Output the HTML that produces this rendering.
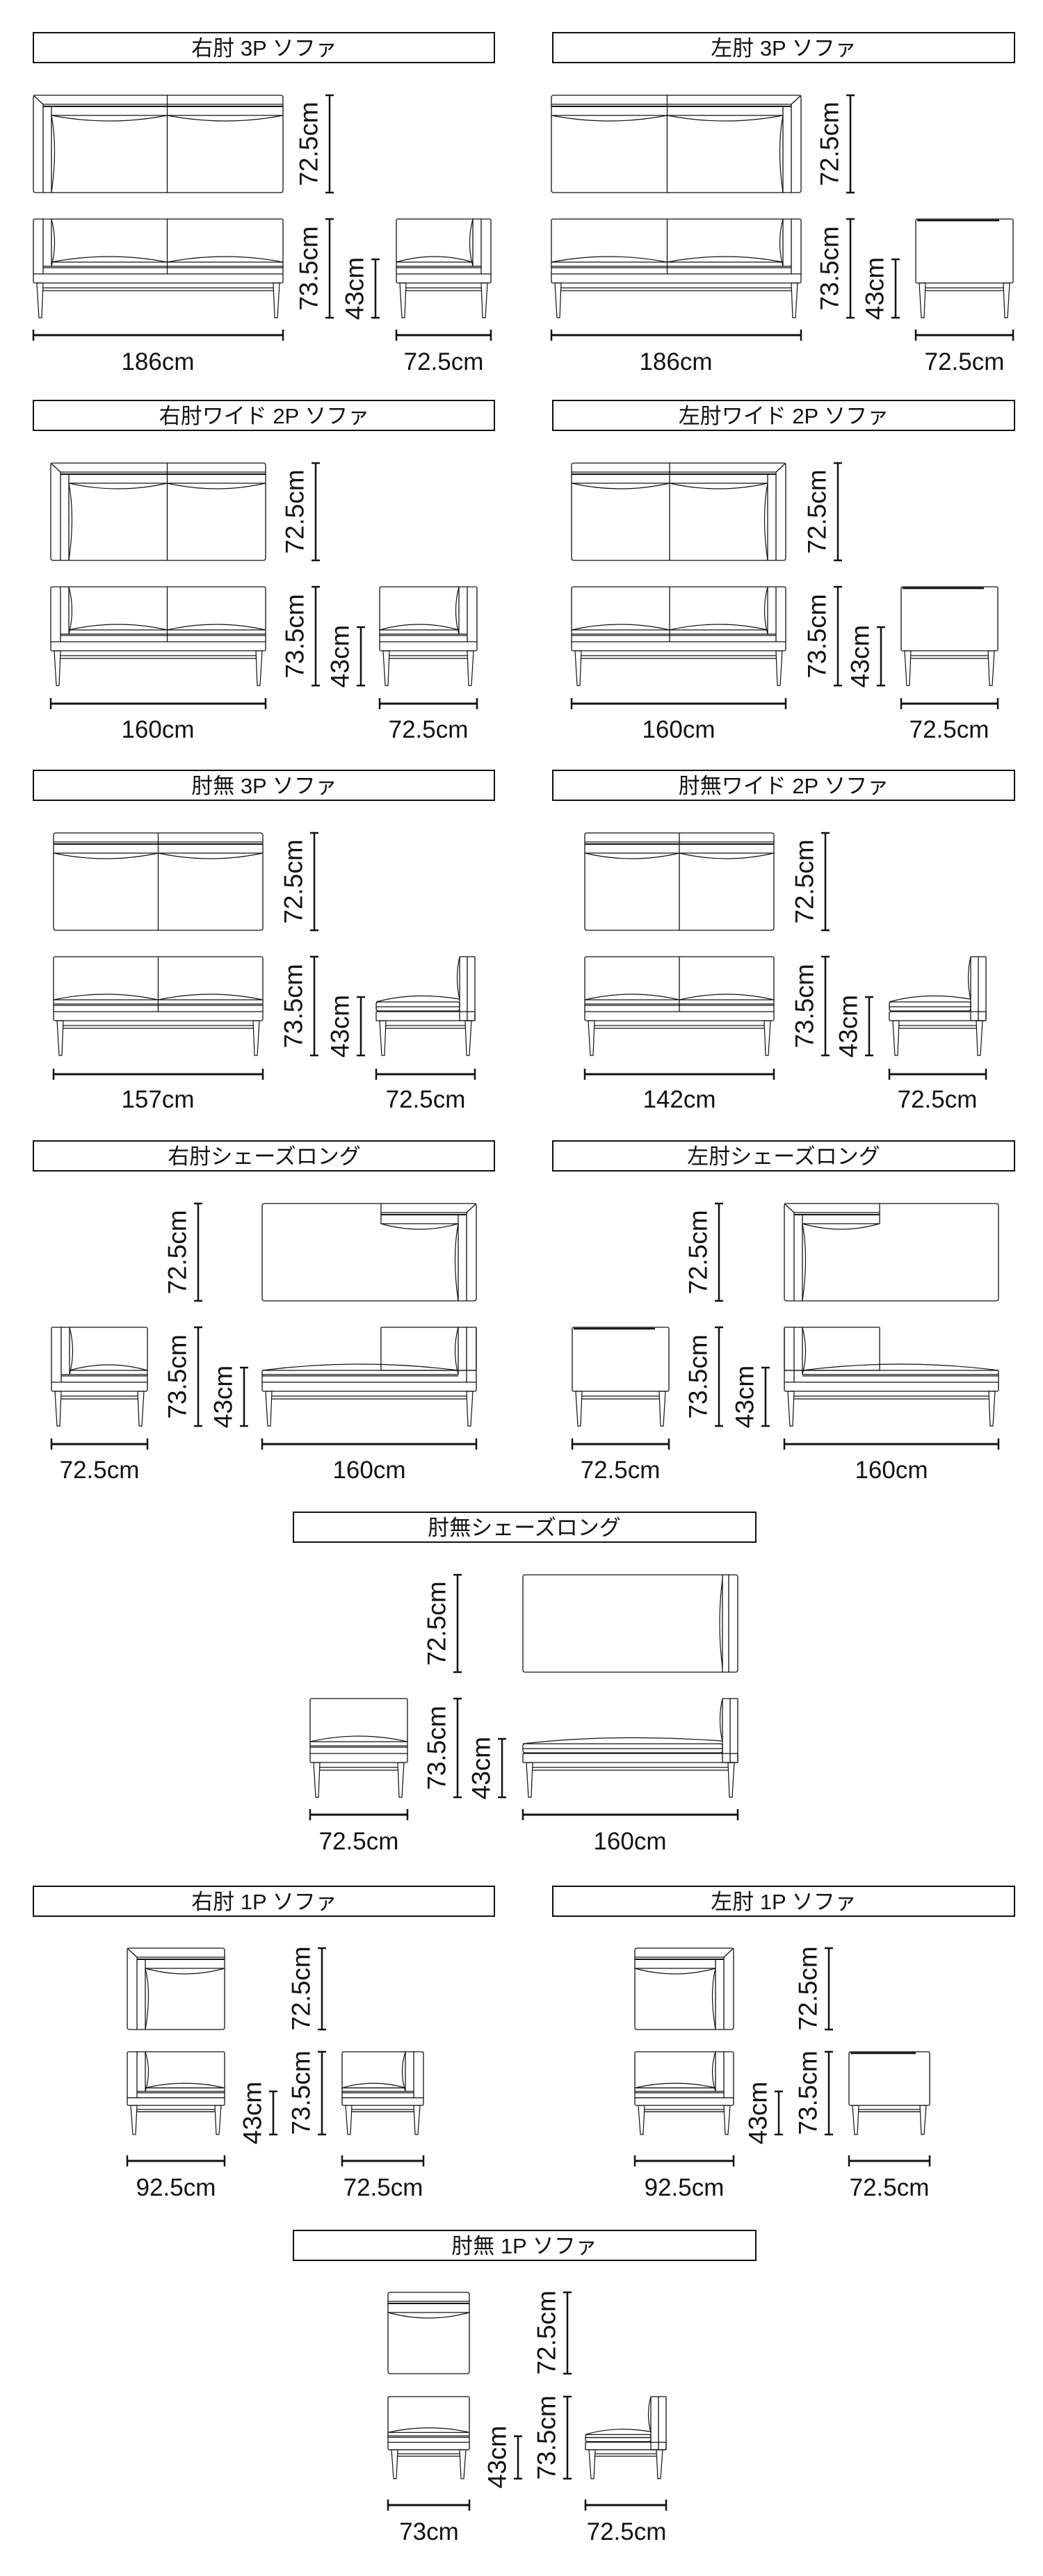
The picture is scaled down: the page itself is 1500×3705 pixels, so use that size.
<!DOCTYPE html>
<html><head><meta charset="utf-8">
<style>
html,body{margin:0;padding:0;background:#fff;}
svg{display:block;}
.t{font-family:"Liberation Sans","Noto Sans CJK JP",sans-serif;font-size:31px;fill:#111;text-anchor:middle;}
.h{font-family:"Liberation Sans",sans-serif;font-size:35px;fill:#111;text-anchor:middle;}
.v{font-family:"Liberation Sans",sans-serif;font-size:37px;fill:#111;text-anchor:middle;dominant-baseline:central;}
</style></head>
<body>
<svg id="s" width="1500" height="3705" viewBox="0 0 1500 3705" xmlns="http://www.w3.org/2000/svg">
<rect x="0" y="0" width="1500" height="3705" fill="#fff"/>
<g fill="none" stroke="#111" stroke-width="2">
<rect x="48" y="47" width="663" height="43"/><rect x="795" y="47" width="664" height="43"/>
<rect x="48" y="576" width="663" height="43"/><rect x="795" y="576" width="664" height="43"/>
<rect x="48" y="1108" width="663" height="43"/><rect x="795" y="1108" width="664" height="43"/>
<rect x="48" y="1641" width="663" height="43"/><rect x="795" y="1641" width="664" height="43"/>
<rect x="422" y="2175" width="665" height="43"/>
<rect x="48" y="2713" width="663" height="43"/><rect x="795" y="2713" width="664" height="43"/>
<rect x="422" y="3208" width="665" height="43"/>
</g>
<g>
<text class="t" x="380" y="80">右肘 3P ソファ</text>
<text class="t" x="1127" y="80">左肘 3P ソファ</text>
<text class="t" x="380" y="609">右肘ワイド 2P ソファ</text>
<text class="t" x="1127" y="609">左肘ワイド 2P ソファ</text>
<text class="t" x="380" y="1141">肘無 3P ソファ</text>
<text class="t" x="1127" y="1141">肘無ワイド 2P ソファ</text>
<text class="t" x="380" y="1674">右肘シェーズロング</text>
<text class="t" x="1127" y="1674">左肘シェーズロング</text>
<text class="t" x="754" y="2208">肘無シェーズロング</text>
<text class="t" x="380" y="2746">右肘 1P ソファ</text>
<text class="t" x="1127" y="2746">左肘 1P ソファ</text>
<text class="t" x="754" y="3241">肘無 1P ソファ</text>

<text class="h" x="227" y="532">186cm</text><text class="h" x="638" y="532">72.5cm</text>
<text class="h" x="972" y="532">186cm</text><text class="h" x="1387" y="532">72.5cm</text>
<text class="h" x="227" y="1061">160cm</text><text class="h" x="616" y="1061">72.5cm</text>
<text class="h" x="976" y="1061">160cm</text><text class="h" x="1365" y="1061">72.5cm</text>
<text class="h" x="227" y="1593">157cm</text><text class="h" x="612" y="1593">72.5cm</text>
<text class="h" x="977" y="1593">142cm</text><text class="h" x="1348" y="1593">72.5cm</text>
<text class="h" x="143" y="2126">72.5cm</text><text class="h" x="531" y="2126">160cm</text>
<text class="h" x="892" y="2126">72.5cm</text><text class="h" x="1282" y="2126">160cm</text>
<text class="h" x="516" y="2660">72.5cm</text><text class="h" x="906" y="2660">160cm</text>
<text class="h" x="253" y="3158">92.5cm</text><text class="h" x="551" y="3158">72.5cm</text>
<text class="h" x="984" y="3158">92.5cm</text><text class="h" x="1279" y="3158">72.5cm</text>
<text class="h" x="617" y="3653">73cm</text><text class="h" x="901" y="3653">72.5cm</text>

<text class="v" transform="translate(444,207) rotate(-90)">72.5cm</text>
<text class="v" transform="translate(444,386) rotate(-90)">73.5cm</text>
<text class="v" transform="translate(510,415) rotate(-90)">43cm</text>
<text class="v" transform="translate(1193,207) rotate(-90)">72.5cm</text>
<text class="v" transform="translate(1193,386) rotate(-90)">73.5cm</text>
<text class="v" transform="translate(1258,415) rotate(-90)">43cm</text>

<text class="v" transform="translate(424,736) rotate(-90)">72.5cm</text>
<text class="v" transform="translate(424,915) rotate(-90)">73.5cm</text>
<text class="v" transform="translate(489,944) rotate(-90)">43cm</text>
<text class="v" transform="translate(1175,736) rotate(-90)">72.5cm</text>
<text class="v" transform="translate(1175,915) rotate(-90)">73.5cm</text>
<text class="v" transform="translate(1237,944) rotate(-90)">43cm</text>

<text class="v" transform="translate(422,1268) rotate(-90)">72.5cm</text>
<text class="v" transform="translate(422,1447) rotate(-90)">73.5cm</text>
<text class="v" transform="translate(489,1476) rotate(-90)">43cm</text>
<text class="v" transform="translate(1157,1268) rotate(-90)">72.5cm</text>
<text class="v" transform="translate(1157,1447) rotate(-90)">73.5cm</text>
<text class="v" transform="translate(1220,1476) rotate(-90)">43cm</text>

<text class="v" transform="translate(255,1801) rotate(-90)">72.5cm</text>
<text class="v" transform="translate(255,1980) rotate(-90)">73.5cm</text>
<text class="v" transform="translate(321,2009) rotate(-90)">43cm</text>
<text class="v" transform="translate(1004,1801) rotate(-90)">72.5cm</text>
<text class="v" transform="translate(1004,1980) rotate(-90)">73.5cm</text>
<text class="v" transform="translate(1071,2009) rotate(-90)">43cm</text>

<text class="v" transform="translate(628,2335) rotate(-90)">72.5cm</text>
<text class="v" transform="translate(628,2514) rotate(-90)">73.5cm</text>
<text class="v" transform="translate(692,2543) rotate(-90)">43cm</text>

<text class="v" transform="translate(433,2860) rotate(-90)">72.5cm</text>
<text class="v" transform="translate(433,3010) rotate(-90)">73.5cm</text>
<text class="v" transform="translate(363,3039) rotate(-90)">43cm</text>
<text class="v" transform="translate(1162,2860) rotate(-90)">72.5cm</text>
<text class="v" transform="translate(1162,3010) rotate(-90)">73.5cm</text>
<text class="v" transform="translate(1090,3039) rotate(-90)">43cm</text>

<text class="v" transform="translate(786,3355) rotate(-90)">72.5cm</text>
<text class="v" transform="translate(786,3506) rotate(-90)">73.5cm</text>
<text class="v" transform="translate(715,3534) rotate(-90)">43cm</text>
</g>
<g id="d" fill="none" stroke="#111" stroke-width="1.3"></g>
</svg>
<script>
(function(){
var NS='http://www.w3.org/2000/svg';var cur=document.getElementById('d');
function E(t,a){var e=document.createElementNS(NS,t);for(var k in a)e.setAttribute(k,a[k]);cur.appendChild(e);return e;}
function L(x1,y1,x2,y2,w){E('line',{x1:x1,y1:y1,x2:x2,y2:y2,'stroke-width':w||1.3});}
function R(x,y,w,h,r){E('rect',{x:x,y:y,width:w,height:h,rx:r||0,'stroke-width':1.3});}
function P(d){E('path',{d:d,'stroke-width':1.2});}
function mirror(x,w,fn){var g=E('g',{transform:'translate('+(2*x+w)+',0) scale(-1,1)'});var o=cur;cur=g;fn();cur=o;}
function vdim(x,y1,y2){L(x,y1,x,y2,2.5);L(x-6,y1,x+6,y1,2.5);L(x-6,y2,x+6,y2,2.5);}
function hdim(x1,x2,y){L(x1,y,x2,y,3);L(x1,y-8,x1,y+8,2.5);L(x2,y-8,x2,y+8,2.5);}
function legs(x,w,yB2,yS1,yS2,yE){
 P('M'+(x+5)+','+yB2+' L'+(x+14)+','+yB2+' L'+(x+12)+','+yE+' L'+(x+8)+','+yE+' Z');
 P('M'+(x+w-5)+','+yB2+' L'+(x+w-14)+','+yB2+' L'+(x+w-12)+','+yE+' L'+(x+w-8)+','+yE+' Z');
 L(x+14,yS1,x+w-14,yS1);L(x+14,yS2,x+w-14,yS2);
}
function top(x,y,w,h,aL,aR,n){
 var a=14,bb=13;R(x,y,w,h,3);
 var il=aL?x+a:x, ir=aR?x+w-a:x+w;
 if(aL){L(x+a,y+bb,x+a,y+h);L(x,y,x+a,y+bb);}
 if(aR){L(x+w-a,y+bb,x+w-a,y+h);L(x+w,y,x+w-a,y+bb);}
 L(il,y+bb,ir,y+bb);L(il,y+bb+3,ir,y+bb+3,2);
 var cl=aL?il+12:il, cr=aR?ir-12:ir;
 if(aL){L(cl,y+bb+3,cl,y+h);P('M'+cl+','+(y+bb+16)+' Q'+(cl+9)+','+(y+h*0.55)+' '+cl+','+(y+h));}
 if(aR){L(cr,y+bb+3,cr,y+h);P('M'+cr+','+(y+bb+16)+' Q'+(cr-9)+','+(y+h*0.55)+' '+cr+','+(y+h));}
 L(cl,y+bb+16,cr,y+bb+16);
 for(var i=0;i<n;i++){var c0=cl+(cr-cl)*i/n,c1=cl+(cr-cl)*(i+1)/n;P('M'+c0+','+(y+bb+16)+' Q'+((c0+c1)/2)+','+(y+bb+32)+' '+c1+','+(y+bb+16));}
 for(i=1;i<n;i++){var xd=cl+(cr-cl)*i/n;L(xd,y,xd,y+h);}
}
function front(x,y,w,h,aL,aR,n){
 var r=h/142,yP=y+54*r,yC=y+62*r,yL=y+68*r,yB=y+79*r,yB2=y+92*r,yS1=y+99*r,yS2=y+103*r,yE=y+h;
 R(x,y,w,yB2-y,2);
 var a=14,il=aL?x+a:x,ir=aR?x+w-a:x+w;
 if(aL)L(x+a,y,x+a,yB);
 if(aR)L(x+w-a,y,x+w-a,yB);
 var cl=aL?il+12:il,cr=aR?ir-12:ir;
 if(aL){L(cl,y,cl,yL);P('M'+cl+','+y+' Q'+(cl+9)+','+((y+yL)/2)+' '+cl+','+yL);}
 if(aR){L(cr,y,cr,yL);P('M'+cr+','+y+' Q'+(cr-9)+','+((y+yL)/2)+' '+cr+','+yL);}
 for(var i=0;i<n;i++){var c0=cl+(cr-cl)*i/n,c1=cl+(cr-cl)*(i+1)/n;P('M'+c0+','+yC+' Q'+((c0+c1)/2)+','+(yP-8*r)+' '+c1+','+yC);}
 L(cl,yC,cr,yC);L(il,yL,ir,yL);L(il,yL+2,ir,yL+2);L(x,yB,x+w,yB);
 for(i=1;i<n;i++){var xd=cl+(cr-cl)*i/n;L(xd,y,xd,yB);}
 legs(x,w,yB2,yS1,yS2,yE);
}
function box(x,y,w,h){
 var r=h/142,yB2=y+92*r;R(x,y,w,yB2-y,2);L(x+2,y+2,x+w-20,y+2,2.5);
 legs(x,w,yB2,y+99*r,y+103*r,y+h);
}
function profile(x,y,w,h){
 var r=h/142,yP=y+54*r,yC=y+62*r,yL=y+78*r,yB=y+79*r,yB2=y+92*r,bw=22;
 R(x+w-bw,y,bw,yB2-y,1);L(x+w-bw/2,y,x+w-bw/2,yB2);
 P('M'+(x+w-bw)+','+y+' Q'+(x+w-bw-7)+','+(y+30*r)+' '+(x+w-bw)+','+yC);
 P('M'+x+','+(yC+3)+' Q'+(x+(w-bw)*0.45)+','+(yP-4*r)+' '+(x+w-bw)+','+(yC-1));
 R(x,yC+3,w-bw,yL-yC-3,3);L(x,yL-6,x+w-bw,yL-6);
 R(x,yB,w,yB2-yB,1);
 legs(x,w,yB2,y+99*r,y+103*r,y+h);
}
function chaiseTop(x,y,w,h){
 var a=14,bb=13,x0=x+w*0.555,cr=x+w-a-12;R(x,y,w,h,3);
 L(x0,y,x0,y+bb+16);L(x0,y+bb,x+w-a,y+bb);L(x0,y+bb+3,x+w-a,y+bb+3,2);
 L(x+w-a,y+bb,x+w-a,y+h);L(x+w,y,x+w-a,y+bb);
 L(cr,y+bb+3,cr,y+h);P('M'+cr+','+(y+bb+16)+' Q'+(cr-9)+','+(y+h*0.55)+' '+cr+','+(y+h));
 L(x0,y+bb+16,cr,y+bb+16);P('M'+x0+','+(y+bb+16)+' Q'+((x0+cr)/2)+','+(y+bb+32)+' '+cr+','+(y+bb+16));
}
function chaiseFront(x,y,w,h){
 var r=h/142,yP=y+54*r,yC=y+62*r,yL=y+68*r,yB=y+79*r,yB2=y+92*r,a=14,x0=x+w*0.555,cr=x+w-a-12;
 R(x0,y,x+w-x0,yC-y,1);L(x+w-a,y,x+w-a,yB);L(cr,y,cr,yL);
 P('M'+cr+','+y+' Q'+(cr-9)+','+((y+yL)/2)+' '+cr+','+yL);
 R(x,yC,w,yB2-yC,2);L(x+w,y,x+w,yC);
 P('M'+x+','+yC+' Q'+((x+cr)/2)+','+(yP-10*r)+' '+cr+','+yC);
 L(x,yL,cr,yL);L(x,yL+2,cr,yL+2);L(x,yB,x+w,yB);
 legs(x,w,yB2,y+99*r,y+103*r,y+h);
}
function chaise5Top(x,y,w,h){
 R(x,y,w,h,3);L(x+w-22,y,x+w-22,y+h);L(x+w-13,y,x+w-13,y+h);
 P('M'+(x+w-22)+','+(y+6)+' Q'+(x+w-30)+','+(y+h/2)+' '+(x+w-22)+','+(y+h-6));
}
// S1
top(48,137,359,140,1,0,2);front(48,315,359,142,1,0,2);front(570,315,136,142,0,1,1);
top(793,137,359,140,0,1,2);front(793,315,359,142,0,1,2);box(1317,315,140,142);
vdim(474,137,277);vdim(474,315,457);vdim(540,373,457);hdim(48,407,482);hdim(570,706,482);
vdim(1223,137,277);vdim(1223,315,457);vdim(1288,373,457);hdim(793,1152,482);hdim(1317,1457,482);
// S2
top(73,666,309,140,1,0,2);front(73,844,309,142,1,0,2);front(546,844,140,142,0,1,1);
top(822,666,308,140,0,1,2);front(822,844,308,142,0,1,2);box(1296,844,139,142);
vdim(454,666,806);vdim(454,844,986);vdim(519,902,986);hdim(73,382,1012);hdim(546,686,1012);
vdim(1205,666,806);vdim(1205,844,986);vdim(1267,902,986);hdim(822,1130,1012);hdim(1296,1435,1012);
// S3
top(77,1198,301,140,0,0,2);front(77,1376,301,142,0,0,2);profile(541,1376,142,142);
top(841,1198,272,140,0,0,2);front(841,1376,272,142,0,0,2);profile(1279,1376,139,142);
vdim(452,1198,1338);vdim(452,1376,1518);vdim(519,1434,1518);hdim(77,378,1545);hdim(541,683,1545);
vdim(1187,1198,1338);vdim(1187,1376,1518);vdim(1250,1434,1518);hdim(841,1113,1545);hdim(1279,1418,1545);
// S4
chaiseTop(377,1731,308,140);chaiseFront(377,1909,308,142);front(74,1909,138,142,1,0,1);
vdim(285,1731,1871);vdim(285,1909,2051);vdim(351,1967,2051);hdim(74,212,2077);hdim(377,685,2077);
mirror(1128,308,function(){chaiseTop(1128,1731,308,140);chaiseFront(1128,1909,308,142);});
box(823,1909,139,142);
vdim(1034,1731,1871);vdim(1034,1909,2051);vdim(1101,1967,2051);hdim(823,962,2077);hdim(1128,1436,2077);
// S5
chaise5Top(752,2265,309,140);profile(752,2443,309,142);front(446,2443,140,142,0,0,1);
vdim(658,2265,2405);vdim(658,2443,2585);vdim(722,2501,2585);hdim(446,586,2610);hdim(752,1061,2610);
// S6
top(183,2802,140,117,1,0,1);front(183,2951,140,119,1,0,1);front(492,2951,117,119,0,1,1);
vdim(463,2802,2919);vdim(463,2951,3070);vdim(393,3008,3070);hdim(183,323,3108);hdim(492,609,3108);
top(913,2802,142,117,0,1,1);front(913,2951,142,119,0,1,1);box(1221,2951,116,119);
vdim(1192,2802,2919);vdim(1192,2951,3070);vdim(1120,3008,3070);hdim(913,1055,3108);hdim(1221,1337,3108);
// S7
top(558,3297,117,117,0,0,1);front(558,3447,117,118,0,0,1);profile(842,3447,116,118);
vdim(816,3297,3414);vdim(816,3447,3565);vdim(745,3504,3565);hdim(558,675,3603);hdim(842,958,3603);
})();
</script>
</body></html>
